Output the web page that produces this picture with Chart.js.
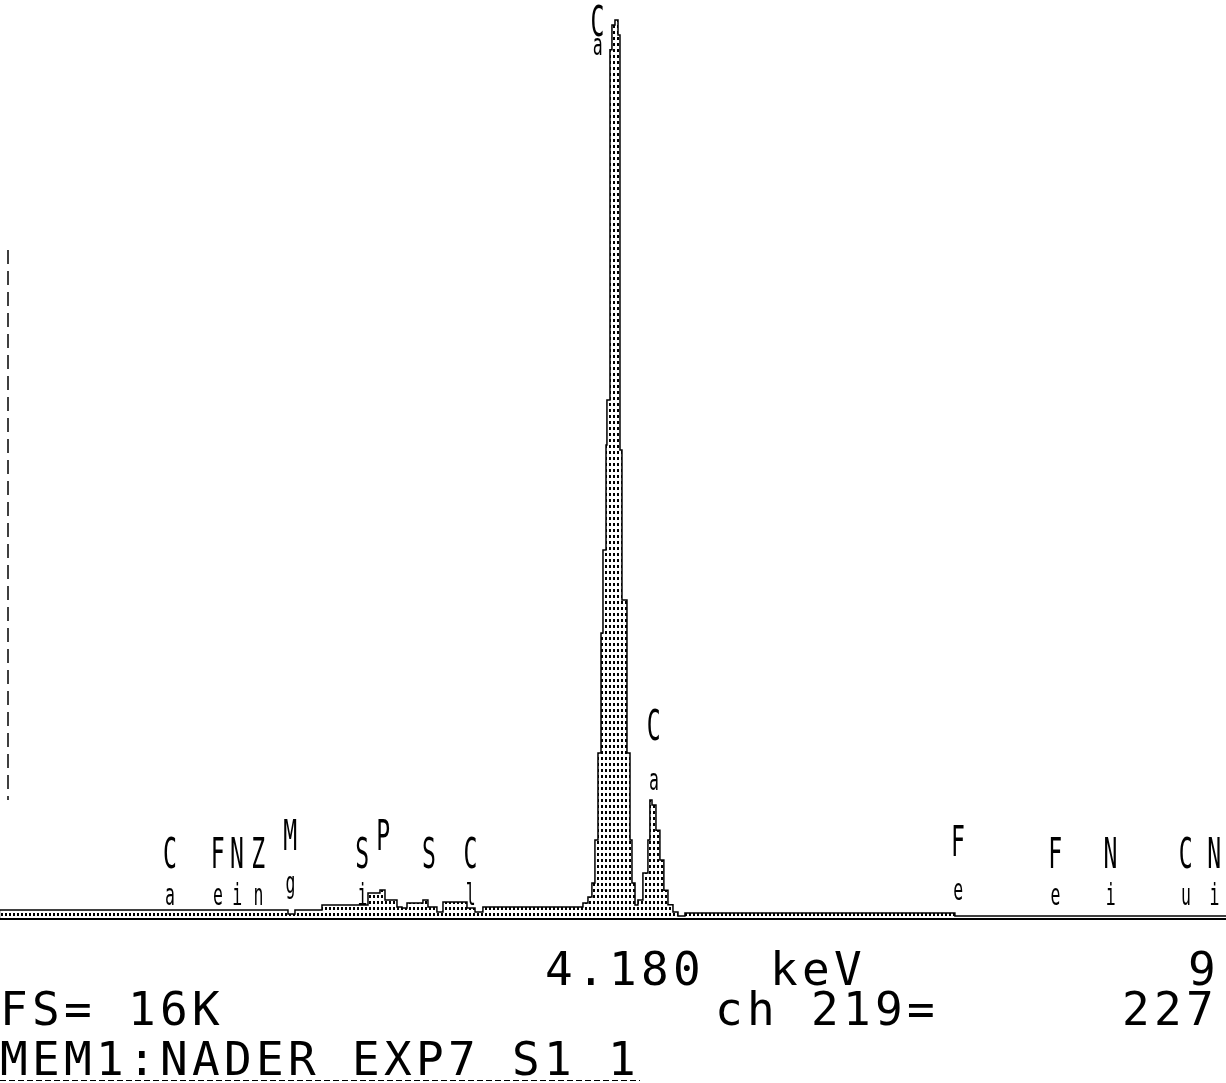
<!DOCTYPE html>
<html>
<head>
<meta charset="utf-8">
<script src="https://cdn.jsdelivr.net/npm/chart.js@4.4.1/dist/chart.umd.min.js"></script>
<style>
  html, body { margin: 0; padding: 0; background: #fff; }
</style>
</head>
<body>
<canvas id="spectrum" width="1226" height="1083"></canvas>
<script>
// spectrum channels (keV) and counts, step starts
const energies = [-0.99, 1.199, 1.252, 1.457, 1.806, 1.897, 1.935, 2.026, 2.064, 2.102,
    2.223, 2.261, 2.329, 2.375, 2.557, 2.618, 2.678, 3.437, 3.475, 3.505,
    3.528, 3.551, 3.574, 3.589, 3.612, 3.619, 3.642, 3.657, 3.680, 3.703,
    3.718, 3.733, 3.771, 3.794, 3.809, 3.832, 3.854, 3.892, 3.930, 3.945,
    3.961, 3.991, 4.021, 4.051, 4.082, 4.120, 4.158, 4.211, 6.259, 6.335, 8.32];
const counts = [36, 178, 107, 178, 267, 481, 534, 356, 232, 214,
    303, 356, 232, 142, 321, 214, 142, 232, 303, 410,
    659, 1425, 2974, 5111, 6590, 8460, 9261, 15500, 15940, 16029,
    15762, 8371, 5699, 2974, 1425, 659, 267, 356, 837, 1425,
    2137, 2050, 1600, 1070, 530, 270, 142, 71, 125, 71, 71];

// element line markers
const lineSymbols = ["Ca", "Fe", "Ni", "Zn", "Mg", "Si", "P", "S", "Cl", "Ca", "Ca", "Fe", "Fe", "Ni", "Cu", "Ni"];
const lineEnergies = [0.341, 0.705, 0.851, 1.012, 1.254, 1.80, 1.96, 2.307, 2.622, 3.691, 4.013, 6.32, 7.058, 7.478, 8.048, 8.265];

// status text
const cursorEnergy = "4.180";
const fullScale = "FS= 16K";
const channelText = ["ch 219=", "227"];
const memoryText = "MEM1:NADER EXP7 S1 1";
const energyRange = [-0.986, 8.316];
const countMax = 16384;

// label placement: [upper baseline, lower baseline, x shift]
const labelRows = { 4: [850, 893, 0], 6: [850, 0, 0], 7: [868, 0, 0], 9: [36, 55, -14], 10: [740, 790, 0], 11: [856, 900, 0] };

function dotPattern() {
    const c = document.createElement("canvas");
    c.width = 4; c.height = 6;
    const g = c.getContext("2d");
    g.fillStyle = "#000";
    g.fillRect(1, 1, 2, 3);
    return g.createPattern(c, "repeat");
}

function monoText(ctx, text, x, y, pitch) {
    for (let i = 0; i < text.length; i++) {
        ctx.fillText(text[i], x + i * pitch, y);
    }
}

const overlay = {
    id: "overlay",
    afterDatasetsDraw(chart) {
        const { ctx, chartArea, scales } = chart;
        ctx.save();

        // baseline
        ctx.strokeStyle = "#000";
        ctx.lineWidth = 2;
        ctx.beginPath();
        ctx.moveTo(chartArea.left, chartArea.bottom - 1);
        ctx.lineTo(chartArea.right, chartArea.bottom - 1);
        ctx.stroke();

        // faint left border
        ctx.lineWidth = 1.5;
        ctx.setLineDash([14, 7]);
        ctx.beginPath();
        ctx.moveTo(chartArea.left + 8, 250);
        ctx.lineTo(chartArea.left + 8, 800);
        ctx.stroke();
        ctx.setLineDash([]);

        // element labels, letters stacked
        ctx.fillStyle = "#000";
        ctx.textBaseline = "alphabetic";
        lineSymbols.forEach((sym, i) => {
            const rows = labelRows[i] || [868, 905, 0];
            const px = scales.x.getPixelForValue(lineEnergies[i]) - 12 + rows[2];
            ctx.save();
            ctx.translate(px, 0);
            ctx.scale(0.55, 1);
            ctx.font = "42px 'DejaVu Sans Mono'";
            ctx.fillText(sym[0], 0, rows[0]);
            if (sym[1] && rows[1]) {
                ctx.font = "30px 'DejaVu Sans Mono'";
                ctx.fillText(sym[1], 4, rows[1]);
            }
            ctx.restore();
        });

        // status lines
        ctx.font = "46px 'DejaVu Sans Mono'";
        monoText(ctx, cursorEnergy, 545, 985, 32);
        monoText(ctx, "keV", 770, 985, 32);
        monoText(ctx, "9", 1188, 985, 32);
        monoText(ctx, fullScale, 0, 1025, 32);
        monoText(ctx, channelText[0], 715, 1025, 32);
        monoText(ctx, channelText[1], 1122, 1025, 32);
        monoText(ctx, memoryText, 0, 1075, 32);

        ctx.lineWidth = 1;
        ctx.setLineDash([6, 3]);
        ctx.beginPath();
        ctx.moveTo(0, 1080.5);
        ctx.lineTo(640, 1080.5);
        ctx.stroke();
        ctx.restore();
    }
};

new Chart(document.getElementById("spectrum"), {
    type: "line",
    data: {
        datasets: [{
            data: energies.map((e, i) => ({ x: e, y: counts[i] })),
            stepped: "after",
            fill: "origin",
            backgroundColor: dotPattern(),
            borderColor: "#000",
            borderWidth: 1.5,
            pointRadius: 0
        }]
    },
    options: {
        responsive: false,
        animation: false,
        devicePixelRatio: 1,
        layout: { padding: { left: 0, right: 0, top: 0, bottom: 163 } },
        plugins: {
            legend: { display: false },
            tooltip: { enabled: false }
        },
        scales: {
            x: { type: "linear", min: energyRange[0], max: energyRange[1], display: false },
            y: { min: 0, max: countMax, display: false }
        }
    },
    plugins: [overlay]
});
</script>
</body>
</html>
